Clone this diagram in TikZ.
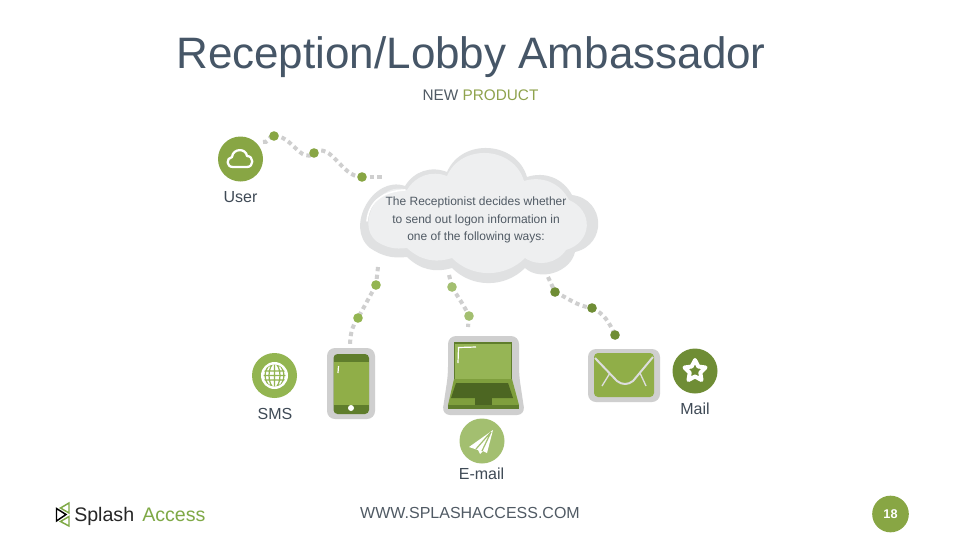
\documentclass[tikz,border=0pt]{standalone}
\usepackage{fontspec}
\setmainfont{Liberation Sans}
\definecolor{titleblue}{HTML}{465667}
\definecolor{darktxt}{HTML}{3F4A56}
\definecolor{softtxt}{HTML}{505A64}
\definecolor{grayd}{HTML}{CFCFCF}
\definecolor{gU}{HTML}{88A644}
\definecolor{gS}{HTML}{93B551}
\definecolor{gE}{HTML}{A3BF70}
\definecolor{gM}{HTML}{6F8D35}
\definecolor{gDark}{HTML}{5F7D2C}
\definecolor{gDeep}{HTML}{4C6622}
\definecolor{gMid}{HTML}{7F9F3D}
\definecolor{gScr}{HTML}{90AE48}
\definecolor{gLap}{HTML}{96B555}
\definecolor{cloudA}{HTML}{E0E1E2}
\definecolor{cloudB}{HTML}{EEEFF0}
\definecolor{olive}{HTML}{8FA34D}
\definecolor{logoG}{HTML}{7FA946}
\tikzset{
 x=0.75pt,y=-0.75pt,
 icon/.style={circle,minimum size=33.75pt,inner sep=0pt},
 dotn/.style={circle,minimum size=7.2pt,inner sep=0pt},
 trail/.style={draw=grayd,line width=3pt,dash pattern=on 3.2pt off 2.6pt},
 lab/.style={text=darktxt,font=\fontsize{12}{14}\selectfont,inner sep=0pt},
 frame/.style={fill=grayd,rounded corners=6pt},
 glint/.style={draw=white,line width=0.9pt},
 iconline/.style={draw=white,line width=1.7pt,line join=round}
}
\begin{document}
\begin{tikzpicture}
\useasboundingbox (0,0) rectangle (960,540);
\fill[white] (0,0) rectangle (960,540);
\node[text=titleblue,font=\fontsize{33}{38}\selectfont,inner sep=0pt] (title) at (471,57) {Reception/Lobby Ambassador};
\node[font=\fontsize{11.5}{13}\selectfont,inner sep=0pt] (sub) at (480.5,95) {\textcolor{softtxt}{NEW} \textcolor{olive}{PRODUCT}};
% cloud
\fill[cloudA] (405,186) to[bend left=40] (447,172) to[bend left=70,looseness=1.2] (527,177) to[bend left=40] (572,195)
  to[bend left=80,looseness=1.5] (575,252) to[bend left=60] (525,268) to[bend left=45] (452,268) to[bend left=30] (407,257)
  to[bend left=20] (370,248) to[bend left=80,looseness=1.2] (405,186) -- cycle;
\fill[cloudB] (407,190) to[bend left=40] (447,176) to[bend left=70,looseness=1.2] (524,181) to[bend left=40] (569,200)
  to[bend left=70,looseness=1.4] (566,250) to[bend left=45] (525,258) to[bend left=45] (452,258) to[bend left=30] (407,248)
  to[bend left=20] (376,241) to[bend left=80,looseness=1.2] (407,190) -- cycle;
\draw[white,line width=1.2pt,line cap=round] (367,221) .. controls (369,200) and (385,191) .. (405,190);
% text
\node[text=softtxt,align=center,font=\fontsize{9}{13.2}\selectfont,inner sep=0pt] (cloudtext) at (476,220) {The Receptionist decides whether\\to send out logon information in\\one of the following ways:};
% trail points
\coordinate (u0) at (263,142);\coordinate (u4) at (383,177);
\coordinate (p0) at (378,267);\coordinate (p3) at (350,345);
\coordinate (e0) at (449,275);\coordinate (e3) at (468,327);
\coordinate (m0) at (548,277);\coordinate (m4) at (619,341);
\coordinate (u1) at (274,136);
\coordinate (u2) at (314,153);
\coordinate (u3) at (362,177);
\coordinate (p1) at (376,285);
\coordinate (p2) at (358,318);
\coordinate (e1) at (452,287);
\coordinate (e2) at (469,316);
\coordinate (m1) at (555,292);
\coordinate (m2) at (592,308);
\coordinate (m3) at (615,335);
\draw[trail] (u0) to[out=-25,in=170] (u1);
\draw[trail] (u1) to[out=5,in=-135] (u2);
\draw[trail] (u2) to[out=35,in=180] (u3);
\draw[trail] (u3) -- (u4);
\draw[trail] (p0) -- (p1);
\draw[trail] (p1) -- (p2);
\draw[trail] (p2) to[out=-125,in=88] (p3);
\draw[trail] (e0) -- (e1);
\draw[trail] (e1) to[out=-60,in=115] (e2);
\draw[trail] (e2) -- (e3);
\draw[trail] (m0) -- (m1);
\draw[trail] (m1) to[out=-25,in=172] (m2);
\draw[trail] (m2) to[out=-25,in=115] (m3);
\draw[trail] (m3) -- (m4);
\foreach \n/\c in {u1/gU,u2/gU,u3/gU,p1/gS,p2/gS,e1/gE,e2/gE,m1/gM,m2/gM,m3/gM}
  \node[dotn,fill=\c] at (\n) {};
% icons
\node[icon,fill=gU] (user) at (240.5,159) {};
\node[icon,fill=gS] (sms) at (274.5,375.5) {};
\node[icon,fill=gE] (email) at (482,441) {};
\node[icon,fill=gM] (mail) at (695,371) {};
% cloud icon
\draw[iconline] (233,167) .. controls (226,167) and (226,158) .. (232,157) .. controls (233,148) and (246,148) .. (247,156) .. controls (254,156) and (254,167) .. (247,167) -- cycle;
% globe icon
\fill[white] (274.5,375.5) circle (13.5);
\begin{scope}
\clip (274.5,375.5) circle (11);
\draw[gS,line width=0.9pt] (274.5,375.5) ellipse (5.5 and 12) (274.5,362) -- (274.5,389)
  (262,371) -- (287,371) (262,375.5) -- (287,375.5) (262,380) -- (287,380) (274.5,375.5) ellipse (9.5 and 12);
\end{scope}
% plane icon
\fill[white] (493,430) -- (469,447) -- (478,450) -- (480,454) -- (483,451) -- (487,453) -- cycle;
\draw[gE,line width=0.9pt] (491,432) -- (476,449) (491,432) -- (482,451);
% star icon
\draw[white,line width=3pt,line join=round,fill=gM] (695,360) -- (698.3,366.5) -- (705.5,367.5) -- (700.3,372.6) -- (701.5,380) -- (695,376.5) -- (688.5,380) -- (689.7,372.6) -- (684.5,367.5) -- (691.7,366.5) -- cycle;
% phone
\fill[frame] (327,348) rectangle (375,419);
\fill[gDark,rounded corners=3pt] (333.5,354) rectangle (369,414);
\fill[gScr] (334,362) rectangle (369,405);
\fill[white] (351,408) circle (3);
\draw[glint] (338.5,366) -- (338,373);
% laptop
\fill[grayd,rounded corners=6pt] (448,336) -- (519,336) -- (519,375) -- (525,415) -- (442,415) -- (448,375) -- cycle;
\fill[gDark] (454,342) rectangle (512,380);
\fill[gLap] (455,343.5) rectangle (511,379);
\draw[glint] (476,347) -- (458.5,347.5) -- (458,363);
\fill[gMid] (454,379) -- (512,379) -- (519,405) -- (448,405) -- cycle;
\fill[gDeep] (456,383) -- (508,383) -- (513,398) -- (451,398) -- cycle;
\fill[gDeep] (475,398) rectangle (492,405);
\fill[gDark] (448,405) rectangle (519,409);
% envelope
\fill[frame] (588,349) rectangle (660,402);
\fill[gScr,rounded corners=3pt] (594,353) rectangle (654,397);
\draw[grayd!70!white,line width=1.5pt,line join=round] (595,358) -- (617,381) .. controls (622,385) and (628,385) .. (633,381) -- (653,357);
\draw[grayd!70!white,line width=1pt] (610,373) -- (602,386) (640,373) -- (646,386);
% labels
\node[lab] (userl) at (240.5,197) {User};
\node[lab] (smsl) at (275,414) {SMS};
\node[lab] (emaill) at (481.5,474) {E-mail};
\node[lab] (maill) at (695,409) {Mail};
\node[text=softtxt,font=\fontsize{12}{14}\selectfont,inner sep=0pt] (web) at (470,513) {WWW.SPLASHACCESS.COM};
% page badge
\node[circle,fill=gU,minimum size=27.5pt,inner sep=0pt,text=white,font=\bfseries\fontsize{9.5}{11}\selectfont] (page) at (890.5,514) {18};
% logo
\draw[black,line width=1.1pt,line join=miter] (56.5,508.5) -- (56.5,521) -- (66,514.5) -- cycle;
\draw[logoG,line width=1.1pt] (69,503) -- (69,513) -- (60.5,508) -- cycle;
\draw[logoG,line width=1.1pt] (69,516.5) -- (69,526) -- (60.5,521.5) -- cycle;
\node[anchor=base west,inner sep=0pt,text=black!85,font=\fontsize{14.7}{16}\selectfont] (splash) at (74,521) {Splash};
\node[anchor=base west,inner sep=0pt,text=logoG,font=\fontsize{14.7}{16}\selectfont] (access) at (142,521) {Access};
\end{tikzpicture}
\end{document}
